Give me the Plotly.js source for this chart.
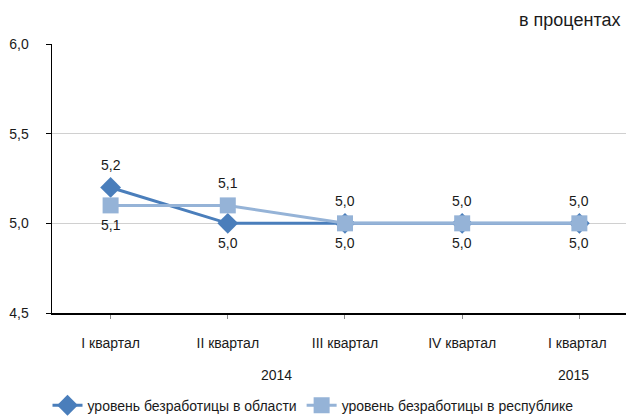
<!DOCTYPE html>
<html>
<head>
<meta charset="utf-8">
<script src="https://cdn.plot.ly/plotly-3.0.1.min.js"></script>
<style>html,body{margin:0;padding:0;background:#fff;}#chart{width:626px;height:416px;}</style>
</head>
<body>
<div id="chart"></div>
<script>
var categories = ["I квартал", "II квартал", "III квартал", "IV квартал", "I квартал "];
var years = ["2014", "2015"];
var regionName = "уровень безработицы в области";
var republicName = "уровень безработицы в республике";
var regionValues = [5.2, 5.0, 5.0, 5.0, 5.0];
var republicValues = [5.1, 5.1, 5.0, 5.0, 5.0];
var regionLabelAbove = [true, false, false, false, false];
var republicLabelAbove = [false, true, true, true, true];

function fmt(v){ return v.toFixed(1).replace('.', ','); }
var xs = categories.map(function(_, i){ return i; });
var font = "Liberation Sans, Arial, sans-serif";
var txt = '#1a1a1a';

var traces = [
  {
    x: xs, y: regionValues, name: regionName, type: 'scatter', mode: 'lines+markers',
    line: {color: '#4a7ebb', width: 3},
    marker: {symbol: 'diamond', size: 16, color: '#4a7ebb'},
    cliponaxis: false
  },
  {
    x: xs, y: republicValues, name: republicName, type: 'scatter', mode: 'lines+markers',
    line: {color: '#95b3d7', width: 3},
    marker: {symbol: 'square', size: 16, color: '#95b3d7'},
    cliponaxis: false
  }
];

var annotations = [];
function addLabels(vals, above){
  vals.forEach(function(v, i){
    annotations.push({xref: 'x', yref: 'y', x: xs[i], y: v, text: fmt(v), showarrow: false,
      yanchor: 'middle', yshift: above[i] ? 22 : -20,
      font: {family: font, size: 14, color: txt}});
  });
}
addLabels(regionValues, regionLabelAbove);
addLabels(republicValues, republicLabelAbove);
annotations.push(
  {xref: 'x', yref: 'paper', x: 1.5, y: 0, yanchor: 'middle', yshift: -62, xshift: -10, text: years[0], showarrow: false,
   font: {family: font, size: 14, color: txt}},
  {xref: 'x', yref: 'paper', x: 4, y: 0, yanchor: 'middle', yshift: -62, xshift: -6, text: years[1], showarrow: false,
   font: {family: font, size: 14, color: txt}},
  {xref: 'paper', yref: 'paper', x: 1, y: 1, xanchor: 'right', yanchor: 'middle', xshift: -4, yshift: 24,
   text: 'в процентах', showarrow: false, font: {family: font, size: 18, color: txt}}
);

var layout = {
  width: 626, height: 416,
  margin: {l: 52, r: 0, t: 44, b: 103, autoexpand: false},
  paper_bgcolor: '#fff', plot_bgcolor: '#fff',
  separators: ', ',
  font: {family: font, size: 14, color: txt},
  showlegend: true,
  legend: {orientation: 'h', x: 0.5, xanchor: 'center', xref: 'container', y: -0.285, yanchor: 'top',
           font: {family: font, size: 14, color: txt}},
  xaxis: {
    range: [-0.5, 4.398], tickmode: 'array', tickvals: xs, ticktext: categories,
    tickson: 'boundaries', ticks: 'outside', ticklen: 4, tickcolor: '#888',
    showline: true, linecolor: '#000', linewidth: 1.5, showgrid: false, zeroline: false,
    ticklabelstandoff: 13,
    tickfont: {family: font, size: 14, color: txt}
  },
  yaxis: {
    range: [4.5, 6.0], dtick: 0.5, tick0: 4.5, tickformat: '.1f',
    ticks: 'outside', ticklen: 5, tickcolor: '#000',
    showline: true, linecolor: '#000', linewidth: 1.5,
    showgrid: true, gridcolor: '#d0d0d0', gridwidth: 1.5, zeroline: false,
    ticklabelstandoff: 14,
    tickfont: {family: font, size: 14, color: txt}
  },
  annotations: annotations
};

Plotly.newPlot('chart', traces, layout, {staticPlot: true, displayModeBar: false});
</script>
</body>
</html>
